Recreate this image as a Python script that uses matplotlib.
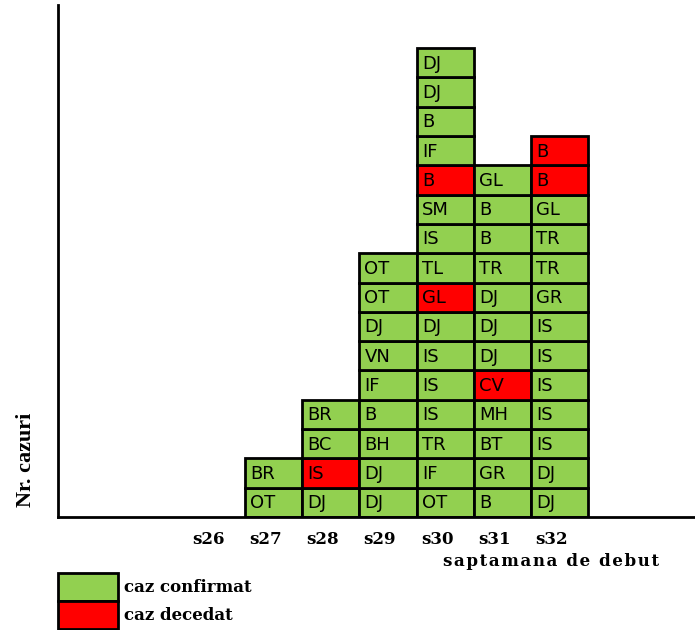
import matplotlib.pyplot as plt
import matplotlib.transforms as mtransforms
from matplotlib.patches import Patch

GREEN = '#92d050'
RED = '#ff0000'

weeks = ['s26', 's27', 's28', 's29', 's30', 's31', 's32']

# county codes per week, from bottom to top; 'd' = deceased, 'c' = confirmed
s26_cases = []
s26_status = []
s27_cases = ['OT', 'BR']
s27_status = ['c', 'c']
s28_cases = ['DJ', 'IS', 'BC', 'BR']
s28_status = ['c', 'd', 'c', 'c']
s29_cases = ['DJ', 'DJ', 'BH', 'B', 'IF', 'VN', 'DJ', 'OT', 'OT']
s29_status = ['c'] * 9
s30_cases = ['OT', 'IF', 'TR', 'IS', 'IS', 'IS', 'DJ', 'GL', 'TL', 'IS',
             'SM', 'B', 'IF', 'B', 'DJ', 'DJ']
s30_status = ['c', 'c', 'c', 'c', 'c', 'c', 'c', 'd', 'c', 'c',
              'c', 'd', 'c', 'c', 'c', 'c']
s31_cases = ['B', 'GR', 'BT', 'MH', 'CV', 'DJ', 'DJ', 'DJ', 'TR', 'B', 'B', 'GL']
s31_status = ['c', 'c', 'c', 'c', 'd', 'c', 'c', 'c', 'c', 'c', 'c', 'c']
s32_cases = ['DJ', 'DJ', 'IS', 'IS', 'IS', 'IS', 'IS', 'GR', 'TR', 'TR',
             'GL', 'B', 'B']
s32_status = ['c'] * 11 + ['d', 'd']

all_cases = [s26_cases, s27_cases, s28_cases, s29_cases, s30_cases, s31_cases, s32_cases]
all_status = [s26_status, s27_status, s28_status, s29_status, s30_status, s31_status, s32_status]

fig = plt.figure(figsize=(6.95, 6.3), dpi=100)
ax = fig.add_axes([58 / 695, 113 / 630, 1 - 58 / 695, 512 / 630])

for x, (cases, status) in enumerate(zip(all_cases, all_status)):
    for i, (code, st) in enumerate(zip(cases, status)):
        ax.bar(x, 1, bottom=i, width=1, color=RED if st == 'd' else GREEN,
               edgecolor='black', linewidth=2)
        ax.text(x - 0.41, i + 0.47, code, ha='left', va='center',
                fontsize=13, family='DejaVu Sans')

ax.set_xlim(-2.76, 8.36)
ax.set_ylim(0, 17.47)
ax.set_xticks(range(len(weeks)))
ax.set_xticklabels(weeks, family='DejaVu Serif', fontweight='bold', fontsize=12)
ax.tick_params(axis='x', length=0, pad=10)
shift = mtransforms.ScaledTranslation(-0.08, 0, fig.dpi_scale_trans)
for lbl in ax.get_xticklabels():
    lbl.set_transform(lbl.get_transform() + shift)
ax.set_yticks([])
for side in ['top', 'right']:
    ax.spines[side].set_visible(False)
for side in ['left', 'bottom']:
    ax.spines[side].set_linewidth(2)

ax.set_ylabel('Nr. cazuri', family='Liberation Serif', fontweight='bold',
              fontsize=16)
ax.yaxis.set_label_coords(-0.035, 0.111)

# letter-spaced axis title
fig.text(551 / 695, 1 - 562 / 630, '\u200a'.join('saptamana de debut'),
         ha='center', va='center', family='DejaVu Serif',
         fontweight='bold', fontsize=12)

handles = [Patch(facecolor=GREEN, edgecolor='black', linewidth=2),
           Patch(facecolor=RED, edgecolor='black', linewidth=2)]
fig.legend(handles, ['caz confirmat', 'caz decedat'], loc='upper left',
           bbox_to_anchor=(58 / 695, 1 - 573 / 630), frameon=False,
           borderpad=0, borderaxespad=0, labelspacing=0, handlelength=3.6,
           handleheight=2.21, handletextpad=0.36,
           prop={'family': 'DejaVu Serif', 'weight': 'bold', 'size': 12})

fig.savefig('out.png', dpi=100)
